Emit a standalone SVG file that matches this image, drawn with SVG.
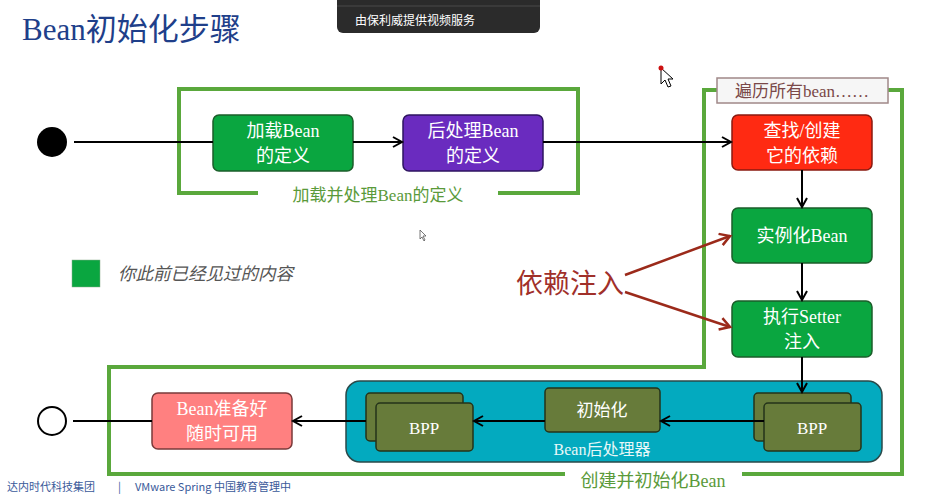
<svg xmlns="http://www.w3.org/2000/svg" width="948" height="494" viewBox="0 0 948 494">
<defs>
<style>
.t{font-family:"Liberation Serif","Noto Sans CJK SC",serif;}
.box{stroke-width:1.5;}
.wt{fill:#ffffff;font-size:18px;text-anchor:middle;}
.conn{stroke:#000;stroke-width:2;fill:none;}
.dep{stroke:#9b2a1a;stroke-width:2.5;fill:none;}
.frame{stroke:#5aa83c;stroke-width:4;fill:none;}
.bpp{fill:#677b3a;stroke:#24331a;stroke-width:1.5;}
.ft{font-family:"Noto Sans CJK SC",sans-serif;font-size:11px;fill:#3a5a9a;}
</style>
<marker id="ah" markerWidth="12" markerHeight="12" refX="10" refY="6" orient="auto" markerUnits="userSpaceOnUse">
<path d="M1,1 L10,6 L1,11" fill="none" stroke="#000" stroke-width="2"/>
</marker>
<marker id="ahr" markerWidth="14" markerHeight="14" refX="11" refY="7" orient="auto" markerUnits="userSpaceOnUse">
<path d="M1,1 L11,7 L1,13" fill="none" stroke="#9b2a1a" stroke-width="2.5"/>
</marker>
</defs>
<rect width="948" height="494" fill="#ffffff"/>

<text class="t" x="22" y="40" font-size="31" fill="#1f3f8a">Bean初始化步骤</text>

<g id="overlay">
<rect x="337" y="-10" width="203" height="43" rx="6" fill="#2b2b2b"/>
<line x1="337" y1="6" x2="540" y2="6" stroke="#4a4a4a" stroke-width="1"/>
<text x="355" y="25" font-family="'Noto Sans CJK SC',sans-serif" font-size="12" fill="#ffffff">由保利威提供视频服务</text>
</g>

<g id="frame-load">
<path class="frame" d="M258,193 L179,193 L179,89 L578,89 L578,193 L498,193"/>
<text class="t" x="378" y="201" font-size="17" fill="#5a9a3a" text-anchor="middle">加载并处理Bean的定义</text>
</g>

<g id="frame-create">
<path class="frame" d="M717,90 L704,90 L704,367 L109,367 L109,474 L565,474"/>
<path class="frame" d="M742,474 L902,474 L902,90 L888,90"/>
<rect x="717" y="78" width="171" height="25" fill="#f6f6f6" stroke="#a08888" stroke-width="1.5"/>
<text class="t" x="802" y="97" font-size="17" fill="#7a4848" text-anchor="middle">遍历所有bean……</text>
<text class="t" x="653" y="487" font-size="18" fill="#5a9a3a" text-anchor="middle">创建并初始化Bean</text>
</g>

<g id="start"><circle cx="52" cy="142" r="15" fill="#000"/></g>
<g id="end"><circle cx="52" cy="421" r="14" fill="#fff" stroke="#000" stroke-width="2"/></g>

<g id="load-def">
<rect class="box" x="213" y="115" width="140" height="56" rx="6" fill="#0aa640" stroke="#1b5e2a"/>
<text class="t wt" x="283" y="137">加载Bean</text>
<text class="t wt" x="283" y="162">的定义</text>
</g>

<g id="post-def">
<rect class="box" x="403" y="115" width="140" height="56" rx="6" fill="#6a2bbf" stroke="#2e1460"/>
<text class="t wt" x="473" y="137">后处理Bean</text>
<text class="t wt" x="473" y="162">的定义</text>
</g>

<g id="find-deps">
<rect class="box" x="732" y="115" width="140" height="55" rx="6" fill="#ff2a12" stroke="#8a1a10"/>
<text class="t wt" x="802" y="137">查找/创建</text>
<text class="t wt" x="802" y="162">它的依赖</text>
</g>

<g id="instantiate">
<rect class="box" x="732" y="208" width="140" height="55" rx="6" fill="#0aa640" stroke="#1b5e2a"/>
<text class="t wt" x="802" y="242">实例化Bean</text>
</g>

<g id="setter">
<rect class="box" x="732" y="301" width="140" height="56" rx="6" fill="#0aa640" stroke="#1b5e2a"/>
<text class="t wt" x="802" y="323">执行Setter</text>
<text class="t wt" x="802" y="348">注入</text>
</g>

<g id="bpp-container">
<rect x="346" y="381" width="536" height="81" rx="14" fill="#03aabf" stroke="#2a4a4a" stroke-width="1.5"/>
<text class="t" x="602" y="455" font-size="16" fill="#e8f8f8" text-anchor="middle">Bean后处理器</text>
</g>

<g id="bpp-right">
<rect class="bpp" x="754" y="393" width="97" height="48" rx="4"/>
<rect class="bpp" x="764" y="403" width="97" height="48" rx="4"/>
<text class="t" x="812" y="434" font-size="17" fill="#fff" text-anchor="middle">BPP</text>
</g>

<g id="init">
<rect class="bpp" x="545" y="388" width="115" height="44" rx="4"/>
<text class="t" x="602" y="416" font-size="17" fill="#fff" text-anchor="middle">初始化</text>
</g>

<g id="bpp-left">
<rect class="bpp" x="366" y="393" width="97" height="48" rx="4"/>
<rect class="bpp" x="376" y="403" width="97" height="48" rx="4"/>
<text class="t" x="424" y="434" font-size="17" fill="#fff" text-anchor="middle">BPP</text>
</g>

<g id="ready">
<rect class="box" x="152" y="393" width="140" height="56" rx="6" fill="#ff8080" stroke="#7a3a3a"/>
<text class="t wt" x="222" y="415">Bean准备好</text>
<text class="t wt" x="222" y="440">随时可用</text>
</g>

<g id="legend">
<rect x="72" y="260" width="28" height="27" fill="#0aa640" stroke="#8aaa8a" stroke-width="0.5"/>
<text x="118" y="280" font-family="'Liberation Serif','Noto Sans CJK SC',serif" font-size="17.5" font-style="italic" fill="#555">你此前已经见过的内容</text>
</g>

<g id="connectors">
<line class="conn" x1="74" y1="142" x2="213" y2="142"/>
<line class="conn" x1="353" y1="142" x2="402" y2="142" marker-end="url(#ah)"/>
<line class="conn" x1="543" y1="142" x2="731" y2="142" marker-end="url(#ah)"/>
<line class="conn" x1="802" y1="170" x2="802" y2="207" marker-end="url(#ah)"/>
<line class="conn" x1="802" y1="263" x2="802" y2="300" marker-end="url(#ah)"/>
<line class="conn" x1="802" y1="357" x2="802" y2="392" marker-end="url(#ah)"/>
<line class="conn" x1="764" y1="421" x2="661" y2="421" marker-end="url(#ah)"/>
<line class="conn" x1="545" y1="421" x2="474" y2="421" marker-end="url(#ah)"/>
<line class="conn" x1="366" y1="421" x2="293" y2="421" marker-end="url(#ah)"/>
<line class="conn" x1="152" y1="421" x2="73" y2="421"/>
<line class="dep" x1="625" y1="275" x2="730" y2="236" marker-end="url(#ahr)"/>
<line class="dep" x1="625" y1="292" x2="730" y2="327" marker-end="url(#ahr)"/>
</g>

<g id="dep-label">
<text x="570" y="293" font-family="'Liberation Serif','Noto Sans CJK SC',serif" font-size="27" fill="#a0302a" text-anchor="middle">依赖注入</text>
</g>

<g id="cursors">
<path d="M661,68 L661,84 L665,80 L668,87 L671,86 L668,79 L673,79 Z" fill="#fff" stroke="#000" stroke-width="1"/>
<circle cx="661" cy="68" r="2.5" fill="#cc1010"/>
<path d="M420,230 L420,239 L422,237 L424,241 L425,240 L423,236 L426,236 Z" fill="#fff" stroke="#555" stroke-width="0.8"/>
</g>

<g id="footer">
<text class="ft" x="7" y="491">达内时代科技集团</text>
<text class="ft" x="118" y="491">|</text>
<text class="ft" x="135" y="491">VMware Spring 中国教育管理中</text>
</g>
</svg>
